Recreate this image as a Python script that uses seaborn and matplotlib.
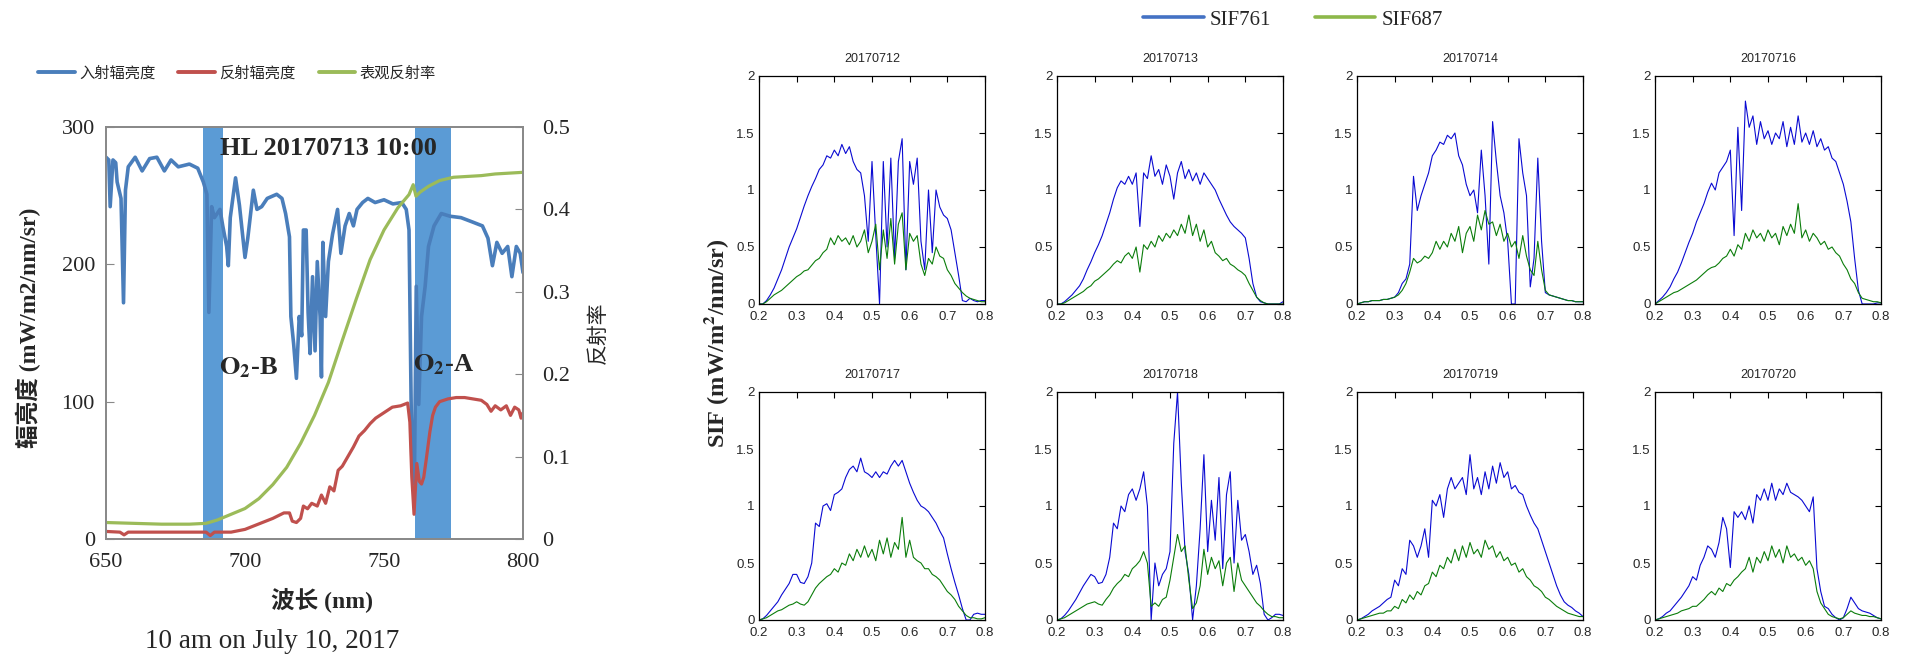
import matplotlib
matplotlib.use('Agg')
import matplotlib.pyplot as plt
from matplotlib.lines import Line2D
import seaborn as sns

sns.set_style('white')
plt.rcParams['font.family'] = ['Liberation Serif', 'Noto Sans CJK SC', 'DejaVu Sans']
plt.rcParams['mathtext.fontset'] = 'stix'

W, H = 1905, 663
SERIF = ['Liberation Serif', 'Noto Sans CJK SC']
CJK = ['Noto Sans CJK SC', 'DejaVu Sans']
NARROW = ['Liberation Sans Narrow', 'Liberation Sans']

# ---------------- left panel: spectra at HL 2017-07-13 10:00 ----------------
wl_in = [650, 651, 651.5, 652.5, 653.5, 654, 655.4, 656.3, 657, 658,
         660.5, 663, 665.7, 668.3, 671, 673.4, 676, 680, 683, 685,
         686.3, 687, 688, 689, 691, 692, 693.4, 694, 694.7, 696.6,
         698, 700, 701, 703, 704.3, 706, 708, 711.4, 713.3, 714.6,
         716, 716.5, 717.5, 718.5, 719.5, 720.4, 721, 722, 722.7, 723.4,
         724.3, 725.2, 726, 727, 727.5, 728, 729, 730, 731.5, 733.3,
         734.5, 736, 737.5, 739, 740.3, 742.3, 744.2, 746.8, 750, 753.2,
         756.4, 758, 759, 760, 760.5, 761, 761.6, 762.5, 763.5, 764.8,
         766, 768, 770.6, 773.8, 777.7, 781.6, 785.4, 787.4, 789, 790.6,
         792.5, 794.5, 796, 797.6, 799, 800]
rad_in = [278, 276, 242, 276, 274, 260, 248, 172, 254, 271,
          278, 268, 277, 278, 268, 276, 271, 273, 270, 260,
          251, 165, 242, 234, 240, 228, 213, 199, 234, 263,
          243, 205, 219, 254, 240, 242, 248, 251, 248, 237,
          220, 162, 142, 117, 162, 148, 225, 225, 165, 135,
          191, 137, 202, 162, 118, 216, 162, 202, 222, 240,
          208, 228, 237, 228, 240, 245, 248, 245, 247, 244,
          245, 240, 225, 60, 40, 55, 184, 98, 162, 184,
          213, 228, 237, 235, 234, 231, 228, 219, 199, 216,
          208, 213, 191, 213, 208, 194]

wl_ref = [650, 655, 656.5, 658, 670, 680, 686, 687.5, 689, 695,
          700, 705, 710, 714, 716, 717, 718.5, 720, 721, 722.5,
          724, 726, 727.5, 729, 730.5, 732, 733.5, 735, 737, 739,
          741, 743, 745, 747, 750, 753, 756, 758.5, 759.3, 760,
          760.8, 761.8, 762.7, 763.5, 764.3, 765.2, 766.5, 767.5, 768.5, 770,
          773, 776, 779, 782, 785, 787, 788.5, 790, 792, 794,
          795.5, 797, 798.5, 799.3, 800]
rad_ref = [5.5, 5, 3, 5, 5, 5, 5, 2.5, 5, 5,
           7, 11, 15, 19, 19, 13, 12, 15, 24, 22,
           26, 24, 32, 26, 38, 35, 50, 53, 60, 67,
           75, 79, 84, 88, 92, 96, 97, 99, 85, 45,
           18, 55, 42, 40, 45, 58, 78, 90, 96, 100,
           102, 103, 103, 102, 101, 98, 93, 97, 94, 97,
           90, 96, 94, 88, 92]

wl_refl = [650, 660, 670, 680, 686, 690, 695, 700, 705, 710,
           715, 720, 725, 730, 735, 740, 745, 750, 755, 759,
           760.5, 761.5, 763, 766, 770, 775, 780, 785, 790, 795, 800]
refl = [0.020, 0.019, 0.018, 0.018, 0.019, 0.023, 0.030, 0.037, 0.049, 0.066,
        0.087, 0.116, 0.150, 0.190, 0.241, 0.291, 0.339, 0.375, 0.402, 0.418,
        0.430, 0.416, 0.421, 0.428, 0.435, 0.439, 0.440, 0.441, 0.443, 0.444, 0.445]

o2b_band = (685, 692)
o2a_band = (761, 774)

# ---------------- right panel: daily SIF curves ----------------
sif_time = [0.20, 0.21, 0.22, 0.23, 0.24, 0.25, 0.26, 0.27, 0.28, 0.29,
            0.30, 0.31, 0.32, 0.33, 0.34, 0.35, 0.36, 0.37, 0.38, 0.39,
            0.40, 0.41, 0.42, 0.43, 0.44, 0.45, 0.46, 0.47, 0.48, 0.49,
            0.50, 0.51, 0.52, 0.53, 0.54, 0.55, 0.56, 0.57, 0.58, 0.59,
            0.60, 0.61, 0.62, 0.63, 0.64, 0.65, 0.66, 0.67, 0.68, 0.69,
            0.70, 0.71, 0.72, 0.73, 0.74, 0.75, 0.76, 0.77, 0.78, 0.79,
            0.80]

dates = ['20170712', '20170713', '20170714', '20170716',
         '20170717', '20170718', '20170719', '20170720']

sif761_0712 = [0.00, 0.00, 0.03, 0.08, 0.14, 0.22, 0.30, 0.40, 0.50, 0.58,
               0.66, 0.76, 0.86, 0.95, 1.03, 1.10, 1.18, 1.22, 1.30, 1.28,
               1.35, 1.30, 1.40, 1.32, 1.38, 1.25, 1.18, 1.15, 0.95, 0.55,
               1.25, 0.60, 0.00, 1.25, 0.50, 1.28, 0.40, 1.25, 1.45, 0.30,
               1.25, 1.05, 1.28, 0.55, 0.30, 1.00, 0.45, 1.00, 0.85, 0.78,
               0.75, 0.65, 0.45, 0.25, 0.03, 0.02, 0.05, 0.03, 0.02, 0.03,
               0.03]
sif687_0712 = [0.00, 0.00, 0.02, 0.05, 0.08, 0.10, 0.12, 0.15, 0.18, 0.21,
               0.24, 0.26, 0.29, 0.30, 0.34, 0.38, 0.40, 0.45, 0.48, 0.58,
               0.52, 0.60, 0.55, 0.58, 0.52, 0.60, 0.50, 0.55, 0.65, 0.45,
               0.55, 0.70, 0.30, 0.65, 0.40, 0.75, 0.35, 0.70, 0.80, 0.30,
               0.62, 0.55, 0.60, 0.35, 0.25, 0.40, 0.35, 0.50, 0.42, 0.40,
               0.30, 0.25, 0.18, 0.14, 0.10, 0.07, 0.05, 0.04, 0.03, 0.02,
               0.02]

sif761_0713 = [0.00, 0.00, 0.02, 0.05, 0.08, 0.12, 0.16, 0.22, 0.30, 0.37,
               0.45, 0.52, 0.60, 0.70, 0.80, 0.92, 1.02, 1.08, 1.05, 1.12,
               1.05, 1.15, 0.68, 1.15, 1.10, 1.30, 1.12, 1.18, 1.05, 1.22,
               1.12, 0.92, 1.15, 1.25, 1.10, 1.18, 1.08, 1.15, 1.05, 1.15,
               1.10, 1.05, 1.00, 0.92, 0.85, 0.78, 0.72, 0.68, 0.65, 0.62,
               0.58, 0.40, 0.18, 0.06, 0.02, 0.01, 0.00, 0.00, 0.00, 0.00,
               0.02]
sif687_0713 = [0.00, 0.00, 0.01, 0.03, 0.05, 0.07, 0.09, 0.11, 0.14, 0.16,
               0.20, 0.22, 0.25, 0.28, 0.31, 0.35, 0.38, 0.36, 0.42, 0.45,
               0.40, 0.50, 0.28, 0.52, 0.48, 0.55, 0.50, 0.60, 0.55, 0.62,
               0.58, 0.65, 0.60, 0.70, 0.62, 0.78, 0.60, 0.70, 0.55, 0.65,
               0.50, 0.55, 0.45, 0.42, 0.38, 0.40, 0.35, 0.33, 0.30, 0.28,
               0.25, 0.18, 0.12, 0.06, 0.03, 0.01, 0.00, 0.00, 0.00, 0.00,
               0.00]

sif761_0714 = [0.00, 0.01, 0.02, 0.02, 0.03, 0.03, 0.03, 0.04, 0.04, 0.05,
               0.06, 0.10, 0.18, 0.22, 0.35, 1.12, 0.82, 0.95, 1.05, 1.15,
               1.30, 1.35, 1.42, 1.40, 1.48, 1.45, 1.50, 1.30, 1.22, 1.05,
               0.95, 1.00, 0.80, 1.35, 0.95, 0.35, 1.60, 1.25, 0.95, 0.80,
               0.55, 0.00, 0.00, 1.45, 1.15, 0.95, 0.15, 0.40, 1.28, 0.55,
               0.10, 0.08, 0.07, 0.06, 0.05, 0.04, 0.03, 0.03, 0.02, 0.02,
               0.02]
sif687_0714 = [0.00, 0.01, 0.02, 0.02, 0.03, 0.03, 0.03, 0.04, 0.04, 0.05,
               0.06, 0.08, 0.12, 0.18, 0.28, 0.40, 0.36, 0.38, 0.42, 0.40,
               0.45, 0.55, 0.48, 0.55, 0.50, 0.62, 0.55, 0.68, 0.45, 0.62,
               0.68, 0.55, 0.78, 0.65, 0.82, 0.70, 0.72, 0.60, 0.70, 0.55,
               0.62, 0.50, 0.55, 0.40, 0.60, 0.42, 0.30, 0.25, 0.55, 0.30,
               0.12, 0.08, 0.07, 0.06, 0.05, 0.04, 0.03, 0.03, 0.02, 0.02,
               0.02]

sif761_0716 = [0.00, 0.03, 0.06, 0.10, 0.15, 0.22, 0.28, 0.36, 0.45, 0.54,
               0.62, 0.72, 0.80, 0.88, 0.98, 1.06, 1.00, 1.15, 1.20, 1.25,
               1.35, 0.60, 1.55, 0.82, 1.78, 1.55, 1.65, 1.40, 1.60, 1.45,
               1.52, 1.40, 1.50, 1.45, 1.60, 1.38, 1.55, 1.40, 1.65, 1.42,
               1.50, 1.40, 1.52, 1.38, 1.45, 1.35, 1.38, 1.28, 1.25, 1.15,
               1.05, 0.90, 0.72, 0.40, 0.12, 0.00, 0.00, 0.00, 0.00, 0.01,
               0.01]
sif687_0716 = [0.00, 0.02, 0.04, 0.06, 0.08, 0.10, 0.11, 0.13, 0.15, 0.17,
               0.19, 0.21, 0.24, 0.27, 0.30, 0.32, 0.33, 0.36, 0.40, 0.42,
               0.48, 0.42, 0.52, 0.48, 0.62, 0.55, 0.65, 0.58, 0.62, 0.55,
               0.65, 0.58, 0.62, 0.52, 0.68, 0.60, 0.70, 0.62, 0.88, 0.58,
               0.65, 0.55, 0.62, 0.58, 0.52, 0.55, 0.48, 0.50, 0.45, 0.42,
               0.35, 0.30, 0.22, 0.18, 0.10, 0.05, 0.04, 0.03, 0.02, 0.02,
               0.01]

sif761_0717 = [0.00, 0.01, 0.04, 0.08, 0.12, 0.16, 0.22, 0.27, 0.32, 0.40,
               0.40, 0.33, 0.32, 0.38, 0.50, 0.85, 0.82, 1.00, 1.02, 0.96,
               1.10, 1.12, 1.15, 1.25, 1.32, 1.35, 1.30, 1.42, 1.30, 1.28,
               1.25, 1.30, 1.25, 1.30, 1.28, 1.35, 1.40, 1.35, 1.40, 1.30,
               1.20, 1.12, 1.05, 1.00, 0.98, 0.95, 0.90, 0.85, 0.78, 0.72,
               0.58, 0.45, 0.33, 0.22, 0.10, 0.00, 0.00, 0.05, 0.06, 0.05,
               0.05]
sif687_0717 = [0.00, 0.01, 0.02, 0.04, 0.06, 0.08, 0.09, 0.11, 0.13, 0.14,
               0.16, 0.14, 0.13, 0.16, 0.22, 0.28, 0.32, 0.35, 0.38, 0.40,
               0.45, 0.42, 0.50, 0.48, 0.58, 0.52, 0.62, 0.55, 0.65, 0.55,
               0.62, 0.52, 0.70, 0.58, 0.72, 0.55, 0.68, 0.62, 0.90, 0.55,
               0.70, 0.55, 0.52, 0.50, 0.45, 0.45, 0.40, 0.38, 0.35, 0.30,
               0.25, 0.22, 0.18, 0.12, 0.08, 0.04, 0.02, 0.02, 0.01, 0.01,
               0.02]

sif761_0718 = [0.00, 0.01, 0.04, 0.08, 0.13, 0.18, 0.24, 0.30, 0.35, 0.40,
               0.38, 0.32, 0.33, 0.40, 0.55, 0.85, 0.80, 1.00, 0.95, 1.10,
               1.15, 1.05, 1.15, 1.30, 1.00, 0.00, 0.50, 0.30, 0.40, 0.45,
               0.60, 1.55, 2.00, 1.20, 0.60, 0.40, 0.00, 0.30, 0.80, 1.45,
               0.60, 1.05, 0.70, 1.25, 0.45, 1.10, 1.30, 0.50, 1.05, 0.70,
               0.75, 0.60, 0.40, 0.48, 0.32, 0.05, 0.00, 0.02, 0.05, 0.05,
               0.04]
sif687_0718 = [0.00, 0.01, 0.02, 0.04, 0.06, 0.08, 0.10, 0.12, 0.14, 0.15,
               0.16, 0.14, 0.13, 0.18, 0.22, 0.28, 0.32, 0.35, 0.40, 0.38,
               0.45, 0.48, 0.52, 0.60, 0.50, 0.12, 0.15, 0.12, 0.18, 0.20,
               0.35, 0.55, 0.75, 0.60, 0.65, 0.35, 0.10, 0.15, 0.30, 0.62,
               0.40, 0.55, 0.45, 0.52, 0.30, 0.50, 0.55, 0.25, 0.50, 0.35,
               0.30, 0.25, 0.20, 0.15, 0.12, 0.08, 0.05, 0.03, 0.03, 0.02,
               0.02]

sif761_0719 = [0.00, 0.01, 0.03, 0.05, 0.08, 0.10, 0.12, 0.15, 0.18, 0.20,
               0.35, 0.30, 0.45, 0.40, 0.70, 0.65, 0.55, 0.65, 0.80, 0.55,
               1.05, 1.00, 1.10, 0.90, 1.15, 1.25, 1.15, 1.20, 1.25, 1.10,
               1.45, 1.15, 1.25, 1.10, 1.30, 1.15, 1.35, 1.20, 1.38, 1.25,
               1.30, 1.15, 1.18, 1.12, 1.10, 1.00, 0.92, 0.85, 0.80, 0.70,
               0.60, 0.50, 0.40, 0.30, 0.22, 0.16, 0.13, 0.11, 0.08, 0.06,
               0.03]
sif687_0719 = [0.00, 0.01, 0.02, 0.03, 0.04, 0.05, 0.06, 0.06, 0.08, 0.08,
               0.12, 0.10, 0.18, 0.15, 0.22, 0.18, 0.25, 0.22, 0.30, 0.32,
               0.42, 0.38, 0.48, 0.45, 0.55, 0.50, 0.62, 0.52, 0.65, 0.55,
               0.68, 0.58, 0.62, 0.55, 0.70, 0.62, 0.65, 0.55, 0.60, 0.52,
               0.55, 0.48, 0.50, 0.42, 0.45, 0.38, 0.35, 0.30, 0.28, 0.25,
               0.20, 0.18, 0.15, 0.12, 0.10, 0.08, 0.06, 0.05, 0.04, 0.03,
               0.03]

sif761_0720 = [0.00, 0.01, 0.03, 0.06, 0.08, 0.12, 0.16, 0.20, 0.25, 0.30,
               0.38, 0.35, 0.48, 0.55, 0.65, 0.62, 0.55, 0.68, 0.90, 0.80,
               0.46, 0.95, 0.90, 0.95, 0.88, 1.00, 0.85, 1.10, 1.05, 1.15,
               1.05, 1.20, 1.05, 1.15, 1.10, 1.20, 1.12, 1.10, 1.08, 1.05,
               1.00, 0.95, 1.08, 0.45, 0.25, 0.12, 0.10, 0.05, 0.02, 0.00,
               0.02, 0.10, 0.20, 0.15, 0.10, 0.08, 0.07, 0.06, 0.04, 0.02,
               0.01]
sif687_0720 = [0.00, 0.01, 0.02, 0.03, 0.04, 0.05, 0.06, 0.08, 0.09, 0.10,
               0.12, 0.12, 0.15, 0.18, 0.22, 0.25, 0.22, 0.28, 0.25, 0.32,
               0.30, 0.35, 0.38, 0.42, 0.45, 0.55, 0.42, 0.55, 0.50, 0.60,
               0.52, 0.65, 0.55, 0.62, 0.50, 0.65, 0.55, 0.58, 0.52, 0.55,
               0.48, 0.52, 0.45, 0.25, 0.15, 0.10, 0.05, 0.03, 0.02, 0.01,
               0.02, 0.05, 0.08, 0.06, 0.05, 0.04, 0.04, 0.03, 0.03, 0.02,
               0.01]

panels = [
    (dates[0], sif761_0712, sif687_0712),
    (dates[1], sif761_0713, sif687_0713),
    (dates[2], sif761_0714, sif687_0714),
    (dates[3], sif761_0716, sif687_0716),
    (dates[4], sif761_0717, sif687_0717),
    (dates[5], sif761_0718, sif687_0718),
    (dates[6], sif761_0719, sif687_0719),
    (dates[7], sif761_0720, sif687_0720),
]


def px_axes(fig, left, top, right, bottom):
    # place an axes by pixel box in the figure
    return fig.add_axes([left / W, 1 - bottom / H, (right - left) / W, (bottom - top) / H])


fig = plt.figure(figsize=(W / 100, H / 100), dpi=100)

# ---- left panel ----
grey = '#898989'
c_in, c_ref, c_refl, c_band = '#4a7ebb', '#c0504d', '#9bbb59', '#5b9bd5'

ax = px_axes(fig, 106, 127, 523, 539)
ax.axvspan(*o2b_band, color=c_band, lw=0, zorder=0)
ax.axvspan(*o2a_band, color=c_band, lw=0, zorder=0)
sns.lineplot(x=wl_in, y=rad_in, ax=ax, color=c_in, lw=2.6, sort=False, estimator=None)
sns.lineplot(x=wl_ref, y=rad_ref, ax=ax, color=c_ref, lw=2.3, sort=False, estimator=None)
ax.set_xlim(650, 800)
ax.set_ylim(0, 300)
ax.set_xticks([650, 700, 750, 800])
ax.set_yticks([0, 100, 200, 300])
ax.set(xlabel='', ylabel='')
ax.tick_params(axis='x', direction='out', length=6, color=grey, labelsize=16, pad=4)
ax.tick_params(axis='y', direction='in', length=6, color=grey, labelsize=16, pad=8)

ax2 = ax.twinx()
sns.lineplot(x=wl_refl, y=refl, ax=ax2, color=c_refl, lw=2.3, sort=False, estimator=None)
ax2.set_ylim(0, 0.5)
ax2.set_yticks([0, 0.1, 0.2, 0.3, 0.4, 0.5], labels=['0', '0.1', '0.2', '0.3', '0.4', '0.5'])
ax2.set(xlabel='', ylabel='')
ax2.tick_params(axis='y', direction='in', length=6, color=grey, labelsize=16, pad=14)
for a in (ax, ax2):
    for sp in a.spines.values():
        sp.set_color(grey)
        sp.set_linewidth(1.3)

ax.text(729.9, 284, 'HL 20170713 10:00', ha='center', va='center', fontsize=19,
        fontweight='bold', family=SERIF)
ax.text(690.5, 125, r'$\mathbf{O_2}$-B', ha='left', va='center', fontsize=19,
        fontweight='bold', family=SERIF)
ax.text(760.5, 127, r'$\mathbf{O_2}$-A', ha='left', va='center', fontsize=19,
        fontweight='bold', family=SERIF)

fig.text(28 / W, 1 - 328 / H, '辐亮度 (mW/m2/nm/sr)', rotation=90, ha='center', va='center',
         fontsize=17, fontweight='bold', family=SERIF)
fig.text(598 / W, 1 - 333 / H, '反射率', rotation=90, ha='center', va='center',
         fontsize=15, family=CJK)
fig.text(322 / W, 1 - 600 / H, '波长 (nm)', ha='center', va='center',
         fontsize=17, fontweight='bold', family=SERIF)
fig.text(272 / W, 1 - 641 / H, '10 am on July 10, 2017', ha='center', va='center',
         fontsize=19.5, family=SERIF)

left_handles = [Line2D([], [], color=c, lw=2.8) for c in (c_in, c_ref, c_refl)]
fig.legend(left_handles, ['入射辐亮度', '反射辐亮度', '表观反射率'], loc='center',
           bbox_to_anchor=(237 / W, 1 - 73 / H), ncol=3, frameon=False,
           prop={'family': CJK, 'size': 11}, handlelength=2.4, handletextpad=0.3,
           columnspacing=1.5)

# ---- right panel ----
c_761, c_687 = '#0a0ad2', '#0b7d0b'
cols_left = [759, 1057, 1357, 1655]
rows_top = [76, 392]
for i, (date, s761, s687) in enumerate(panels):
    r, c = divmod(i, 4)
    sax = px_axes(fig, cols_left[c], rows_top[r], cols_left[c] + 226, rows_top[r] + 228)
    sns.lineplot(x=sif_time, y=s761, ax=sax, color=c_761, lw=0.8, sort=False, estimator=None)
    sns.lineplot(x=sif_time, y=s687, ax=sax, color=c_687, lw=0.8, sort=False, estimator=None)
    sax.set_xlim(0.2, 0.8)
    sax.set_ylim(0, 2)
    sax.set_xticks([0.2, 0.3, 0.4, 0.5, 0.6, 0.7, 0.8],
                   labels=['0.2', '0.3', '0.4', '0.5', '0.6', '0.7', '0.8'],
                   family=NARROW, fontsize=9.5)
    sax.set_yticks([0, 0.5, 1, 1.5, 2], labels=['0', '0.5', '1', '1.5', '2'],
                   family=NARROW, fontsize=9.5)
    sax.set(xlabel='', ylabel='')
    sax.tick_params(direction='in', top=True, right=True, length=4, width=0.8,
                    color='black')
    sax.tick_params(axis='x', pad=5)
    sax.tick_params(axis='y', pad=3)
    for sp in sax.spines.values():
        sp.set_color('black')
        sp.set_linewidth(0.9)
    sax.set_title(date, fontsize=9, pad=10, family=NARROW)

fig.text(717 / W, 1 - 343 / H, r'SIF (mW/m$^\mathbf{2}$/nm/sr)', rotation=90, ha='center',
         va='center', fontsize=17.5, fontweight='bold', family=SERIF)

right_handles = [Line2D([], [], color='#4472c4', lw=2.6), Line2D([], [], color='#8db84a', lw=2.6)]
fig.legend(right_handles, ['SIF761', 'SIF687'], loc='center', bbox_to_anchor=(1293 / W, 1 - 20 / H),
           ncol=2, frameon=False, prop={'family': SERIF, 'size': 15}, handlelength=2.9,
           handletextpad=0.3, columnspacing=2.1)

fig.savefig('out.png', dpi=100)
